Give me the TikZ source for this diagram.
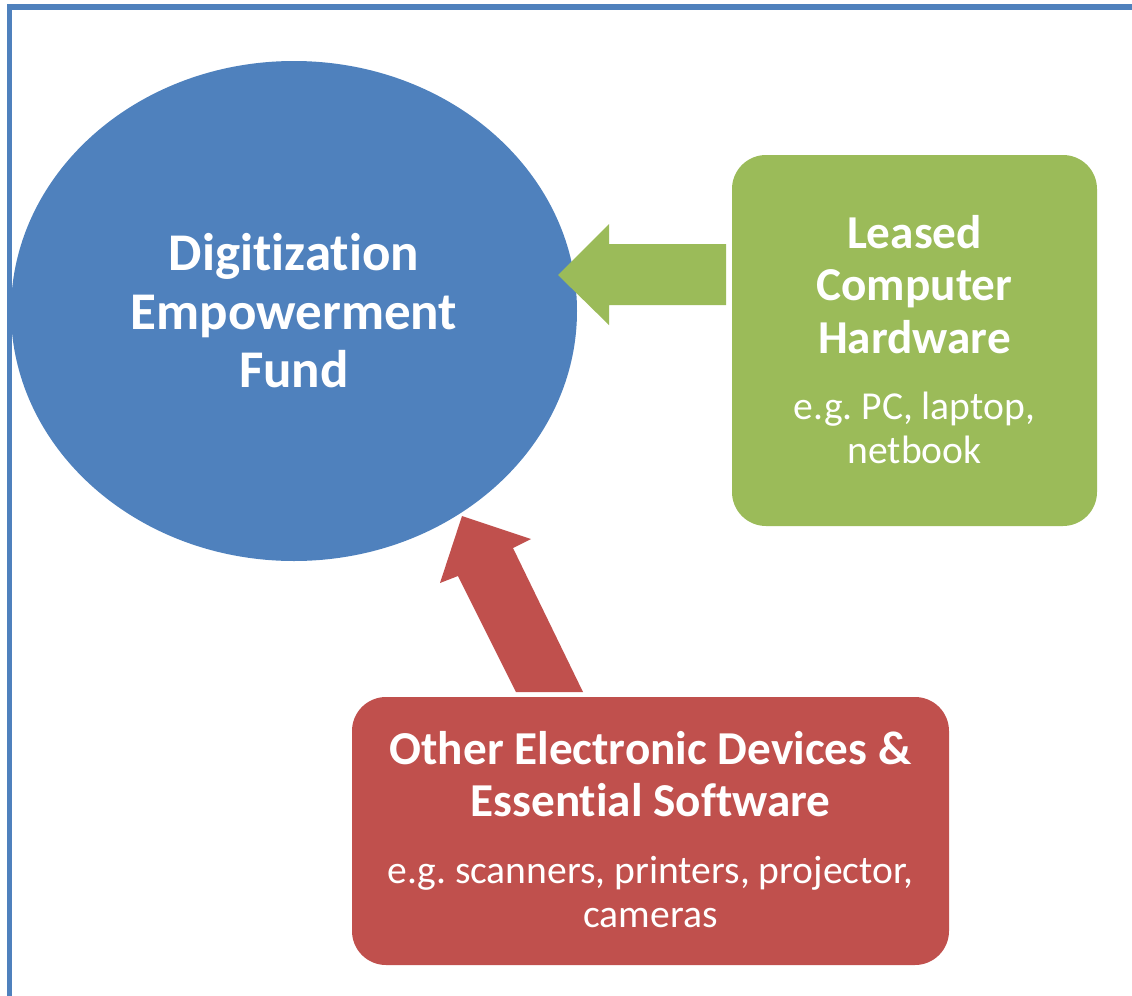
\documentclass[tikz,border=0pt]{standalone}
\usepackage{fontspec}
\setmainfont[Ligatures=NoCommon]{Carlito}
\usetikzlibrary{calc,shapes.geometric}
\definecolor{fundblue}{HTML}{4F81BD}
\definecolor{hwgreen}{HTML}{9BBB59}
\definecolor{devred}{HTML}{C0504D}
\frenchspacing

\begin{document}
\begin{tikzpicture}[x=0.5pt,y=-0.5pt,
    fundnode/.style={ellipse,fill=fundblue,text=white,inner sep=0pt,minimum width=283pt,minimum height=250pt,align=center,font=\bfseries\fontsize{26.5}{29.25}\selectfont},
    box/.style={rounded corners=17pt,inner sep=0pt},
    title/.style={text=white,inner sep=0pt,anchor=north,align=center,font=\bfseries\fontsize{23.6}{26.3}\selectfont},
    sub/.style={text=white,inner sep=0pt,anchor=north,align=center,font=\fontsize{19.8}{22}\selectfont}]

        \useasboundingbox (0,0) rectangle (1132,996);
        \clip (0,0) rectangle (1132,996);

        %frame
        \draw[fundblue,line width=2.6pt] (9.5,1020) -- (9.5,7) -- (1150,7);

        %nodes
        \node[fundnode] (fund) at (294,311) {Digitization\\Empowerment\\Fund};
        \node[box,fill=hwgreen,minimum width=182.5pt,minimum height=185.5pt] (hw) at (914.5,340.5) {};
        \node[box,fill=devred,minimum width=298.5pt,minimum height=134pt] (dev) at (650.5,831) {};

        %texts
        \node[title] (hwtitle) at ($(hw.north)+(0,60)$) {Leased\\Computer\\Hardware};
        \node[sub] (hwsub) at ($(hw.north)+(0,237)$) {e.g. PC, laptop,\\netbook};
        \node[title] (devtitle) at ($(dev.north)+(0,34)$) {Other Electronic Devices \&\\Essential Software};
        \node[sub] (devsub) at ($(dev.north)+(0,159)$) {e.g. scanners, printers, projector,\\cameras};

        %arrows
        \coordinate (hwtip) at (558,275);
        \coordinate (devtip) at (462,516);
        \fill[hwgreen] (hwtip) -- ++(51,-51) -- ++(0,20) -- ++(117,0) -- ++(0,61) -- ++(-117,0) -- ++(0,20) -- cycle;
        \fill[devred] (devtip) -- ++(69,23) -- ++(-18,9) -- ++(70,144) -- ++(-67,0) -- ++(-58,-116) -- ++(-18,7) -- cycle;

\end{tikzpicture}
\end{document}
